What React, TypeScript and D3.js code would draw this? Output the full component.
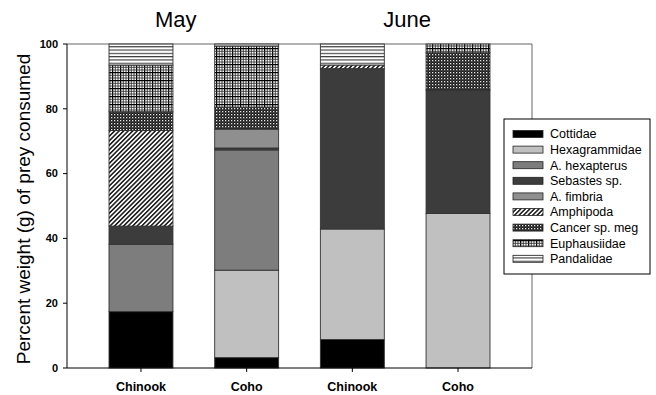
import React from "react";
import * as d3 from "d3";

// Groups along the x axis (month + predator)
const months = ["May", "June"];
const predators = ["Chinook", "Coho", "Chinook", "Coho"];
const barMonths = ["May", "May", "June", "June"];

// Prey taxa in stacking order (bottom to top)
const preyTaxa = [
  "Cottidae",
  "Hexagrammidae",
  "A. hexapterus",
  "Sebastes sp.",
  "A. fimbria",
  "Amphipoda",
  "Cancer sp. meg",
  "Euphausiidae",
  "Pandalidae",
];

// Percent weight per bar: [May Chinook, May Coho, June Chinook, June Coho]
const cottidae = [17.4, 3.2, 8.8, 0];
const hexagrammidae = [0, 27.0, 34.1, 47.7];
const aHexapterus = [20.8, 37.1, 0, 0];
const sebastes = [5.6, 0.6, 49.5, 38.1];
const aFimbria = [0, 5.8, 0, 0];
const amphipoda = [29.5, 0, 1.1, 0];
const cancer = [5.8, 6.8, 0, 11.5];
const euphausiidae = [14.4, 18.9, 0, 2.7];
const pandalidae = [6.5, 0.6, 6.5, 0];

const yTicks = [0, 20, 40, 60, 80, 100];

const seriesValues = [
  cottidae,
  hexagrammidae,
  aHexapterus,
  sebastes,
  aFimbria,
  amphipoda,
  cancer,
  euphausiidae,
  pandalidae,
];

const fills = [
  "#000000",
  "#c0c0c0",
  "#7d7d7d",
  "#3c3c3c",
  "#8f8f8f",
  "url(#pat-amphipoda)",
  "url(#pat-cancer)",
  "url(#pat-euph)",
  "url(#pat-pandal)",
];

const W = 656;
const H = 395;
const left = 67;
const right = 532;
const top = 44;
const bottom = 368;
const FONT = "'Liberation Sans', Arial, Helvetica, sans-serif";

export default function App() {
  const keys = predators.map((p, i) => `${barMonths[i]}-${p}-${i}`);
  const x = d3.scalePoint<string>().domain(keys).range([left, right]).padding(0.7);
  const barW = x.step() * 0.605;
  const y = d3.scaleLinear().domain([0, 100]).range([bottom, top]);

  const table = keys.map((k, i) => {
    const row: Record<string, number | string> = { key: k };
    preyTaxa.forEach((t, j) => (row[t] = seriesValues[j][i]));
    return row;
  });
  const stacked = d3.stack<Record<string, number | string>>().keys(preyTaxa)(table as any);

  const monthX = [
    (x(keys[0])! + x(keys[1])!) / 2 - 18,
    (x(keys[2])! + x(keys[3])!) / 2 + 2,
  ];

  const legendX = 504;
  const legendY = 119;
  const rowH = 15.6;

  return (
    <svg
      width={W}
      height={H}
      style={{ position: "absolute", left: 0, top: 0, background: "#fff" }}
      fontFamily={FONT}
    >
      <defs>
        <pattern id="pat-amphipoda" patternUnits="userSpaceOnUse" width={3.2} height={3.2} patternTransform="rotate(45)">
          <rect width={3.2} height={3.2} fill="#fff" />
          <line x1={0.8} y1={0} x2={0.8} y2={3.2} stroke="#111" strokeWidth={1.5} />
        </pattern>
        <pattern id="pat-cancer" patternUnits="userSpaceOnUse" width={3} height={3}>
          <rect width={3} height={3} fill="#1a1a1a" />
          <rect x={0} y={0} width={1.3} height={1.3} fill="#e8e8e8" />
          <rect x={1.5} y={1.5} width={1} height={1} fill="#777" />
        </pattern>
        <pattern id="pat-euph" patternUnits="userSpaceOnUse" width={8} height={8}>
          <rect width={8} height={8} fill="#fff" />
          <line x1={0.6} y1={0} x2={0.6} y2={8} stroke="#000" strokeWidth={1.3} />
          <line x1={3.3} y1={0} x2={3.3} y2={8} stroke="#333" strokeWidth={0.9} />
          <line x1={6} y1={0} x2={6} y2={8} stroke="#333" strokeWidth={0.9} />
          <line x1={0} y1={0.6} x2={8} y2={0.6} stroke="#000" strokeWidth={1.3} />
          <line x1={0} y1={3.3} x2={8} y2={3.3} stroke="#333" strokeWidth={0.9} />
          <line x1={0} y1={6} x2={8} y2={6} stroke="#333" strokeWidth={0.9} />
        </pattern>
        <pattern id="pat-pandal" patternUnits="userSpaceOnUse" width={6} height={3.3}>
          <rect width={6} height={3.3} fill="#fff" />
          <line x1={0} y1={0.6} x2={6} y2={0.6} stroke="#222" strokeWidth={1} />
        </pattern>
      </defs>

      {/* Month titles */}
      {months.map((m, i) => (
        <text key={m} x={monthX[i]} y={27} textAnchor="middle" fontSize={22} fill="#000">
          {m}
        </text>
      ))}

      {/* Frame: top and right in grey */}
      <line x1={left} x2={right} y1={top} y2={top} stroke="#999" strokeWidth={1.5} />
      <line x1={right} x2={right} y1={top} y2={bottom} stroke="#666" strokeWidth={1} />

      {/* Stacked bars */}
      {stacked.map((layer, j) => (
        <g key={preyTaxa[j]}>
          {layer.map((d, i) =>
            d[1] - d[0] > 0 ? (
              <rect
                key={i}
                x={x(keys[i])! - barW / 2}
                y={y(d[1])}
                width={barW}
                height={y(d[0]) - y(d[1])}
                fill={fills[j]}
                stroke="#333"
                strokeWidth={0.9}
              />
            ) : null
          )}
        </g>
      ))}

      {/* Y axis */}
      <line x1={left} x2={left} y1={top} y2={bottom} stroke="#000" strokeWidth={1} />
      {yTicks.map((t) => (
        <g key={t}>
          <line x1={left - 4} x2={left} y1={y(t)} y2={y(t)} stroke="#000" />
          <text x={left - 9} y={y(t)} dy="0.35em" textAnchor="end" fontSize={11} fontWeight="bold">
            {t}
          </text>
        </g>
      ))}
      <text
        transform={`translate(30, ${(top + bottom) / 2 + 3}) rotate(-90)`}
        textAnchor="middle"
        fontSize={19}
        fill="#000"
      >
        Percent weight (g) of prey consumed
      </text>

      {/* X axis */}
      <line x1={left} x2={right} y1={bottom} y2={bottom} stroke="#000" strokeWidth={1} />
      {keys.map((k, i) => (
        <g key={k}>
          <line x1={x(k)!} x2={x(k)!} y1={bottom} y2={bottom + 4} stroke="#000" />
          <text x={x(k)!} y={391} textAnchor="middle" fontSize={12.5} fontWeight="bold">
            {predators[i]}
          </text>
        </g>
      ))}

      {/* Legend */}
      <rect x={legendX} y={legendY} width={146} height={155} fill="#fff" stroke="#000" strokeWidth={1} />
      {preyTaxa.map((t, j) => {
        const cy = legendY + 15 + j * rowH;
        return (
          <g key={t}>
            <rect x={513} y={cy - 3.5} width={30} height={7} fill={fills[j]} stroke="#222" strokeWidth={0.8} />
            <text x={550} y={cy} dy="0.35em" fontSize={12.5} fill="#000">
              {t}
            </text>
          </g>
        );
      })}
    </svg>
  );
}
